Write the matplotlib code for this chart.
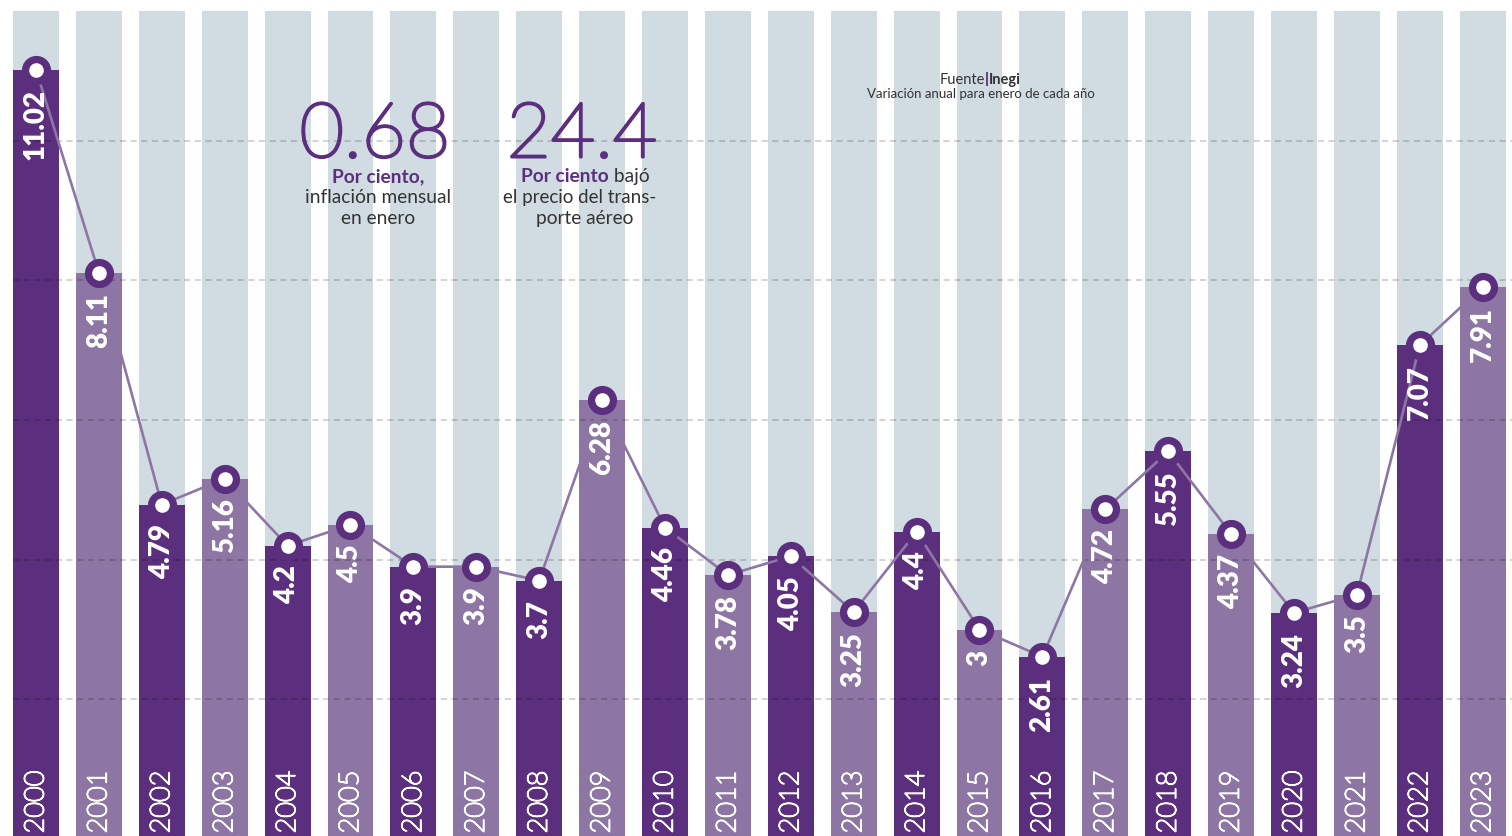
import matplotlib
matplotlib.use("Agg")
import matplotlib.pyplot as plt
import matplotlib.patheffects as pe

# Inflación anual en enero (Inegi)
years = list(range(2000, 2024))
values = [11.02, 8.11, 4.79, 5.16, 4.2, 4.5, 3.9, 3.9, 3.7, 6.28, 4.46, 3.78,
          4.05, 3.25, 4.4, 3.0, 2.61, 4.72, 5.55, 4.37, 3.24, 3.5, 7.07, 7.91]

DARK = "#5c2f7e"
LIGHT = "#8e76a4"
BACK = "#d1dce2"
TXT = "#333333"
FONT = "Lato"

W, H = 1512, 837
fig = plt.figure(figsize=(W / 100, H / 100), dpi=100)
ax = fig.add_axes([0, 0, 1, 1])
ax.set_xlim(-0.572, 23.466)
ax.set_ylim(0.043, 12.03)
ax.axis("off")

x = list(range(len(years)))
cols = [DARK if i % 2 == 0 else LIGHT for i in x]

# columnas de fondo y barras
ax.bar(x, [11.86] * len(x), width=0.73, color=BACK, zorder=0)
ax.bar(x, values, width=0.73, color=cols, zorder=1)

# líneas guía punteadas
for g in [2, 4, 6, 8, 10]:
    ax.plot([-0.37, 23.5], [g, g], color="black", alpha=0.22, lw=1.1,
            ls=(0, (4, 3)), zorder=2)

# línea y marcadores
ax.plot(x, values, color=LIGHT, lw=1.9, zorder=3)
ax.plot(x, values, "o", ms=20, color=DARK, zorder=4)
ax.plot(x, values, "o", ms=9.5, color="white", zorder=5)

# el peso "light" de Lato sale como hairline: se engrosa con un trazo
thin_white = [pe.withStroke(linewidth=1.1, foreground="white")]
thin_dark = [pe.withStroke(linewidth=2.2, foreground=DARK)]

for i, v in zip(x, values):
    ax.text(i, v - 0.27, f"{v:g}", rotation=90, ha="center", va="top",
            color="white", fontsize=20, fontweight="heavy", family=FONT, zorder=6)
    ax.text(i, 0.08, str(years[i]), rotation=90, ha="center", va="bottom",
            color="white", fontsize=19.5, fontweight="light", family=FONT,
            path_effects=thin_white, zorder=6)


def fpos(px, py):
    return px / W, 1 - py / H


def rich_line(cx, base_y, parts, size):
    # parts: (texto, color, peso); se centra la línea en cx
    r = fig.canvas.get_renderer()
    objs = []
    for s, c, w in parts:
        t = fig.text(0, 0, s, color=c, fontweight=w, fontsize=size,
                     family=FONT, va="baseline", ha="left", zorder=7)
        objs.append(t)
    widths = [t.get_window_extent(r).width for t in objs]
    left = cx - sum(widths) / 2
    for t, wd in zip(objs, widths):
        t.set_position(fpos(left, base_y))
        left += wd


# cifras destacadas
fig.text(*fpos(375, 158), "0.68", color=DARK, fontsize=55, fontweight="light",
         family=FONT, ha="center", va="baseline", path_effects=thin_dark)
fig.text(*fpos(582, 158), "24.4", color=DARK, fontsize=55, fontweight="light",
         family=FONT, ha="center", va="baseline", path_effects=thin_dark)

rich_line(378, 182, [("Por ciento,", DARK, "bold")], 13.8)
rich_line(378, 203, [("inflación mensual", TXT, "normal")], 13.8)
rich_line(378, 224, [("en enero", TXT, "normal")], 13.8)

rich_line(585, 182, [("Por ciento", DARK, "bold"), (" bajó", TXT, "normal")], 13.8)
rich_line(580, 203, [("el precio del trans-", TXT, "normal")], 13.5)
rich_line(585, 224, [("porte aéreo", TXT, "normal")], 13.8)

rich_line(980, 84, [("Fuente", TXT, "normal"), ("|", DARK, "heavy"),
                    ("Inegi", TXT, "bold")], 10.5)
rich_line(981, 98, [("Variación anual para enero de cada año", TXT, "normal")], 9.5)

fig.savefig("out.png", dpi=100)
